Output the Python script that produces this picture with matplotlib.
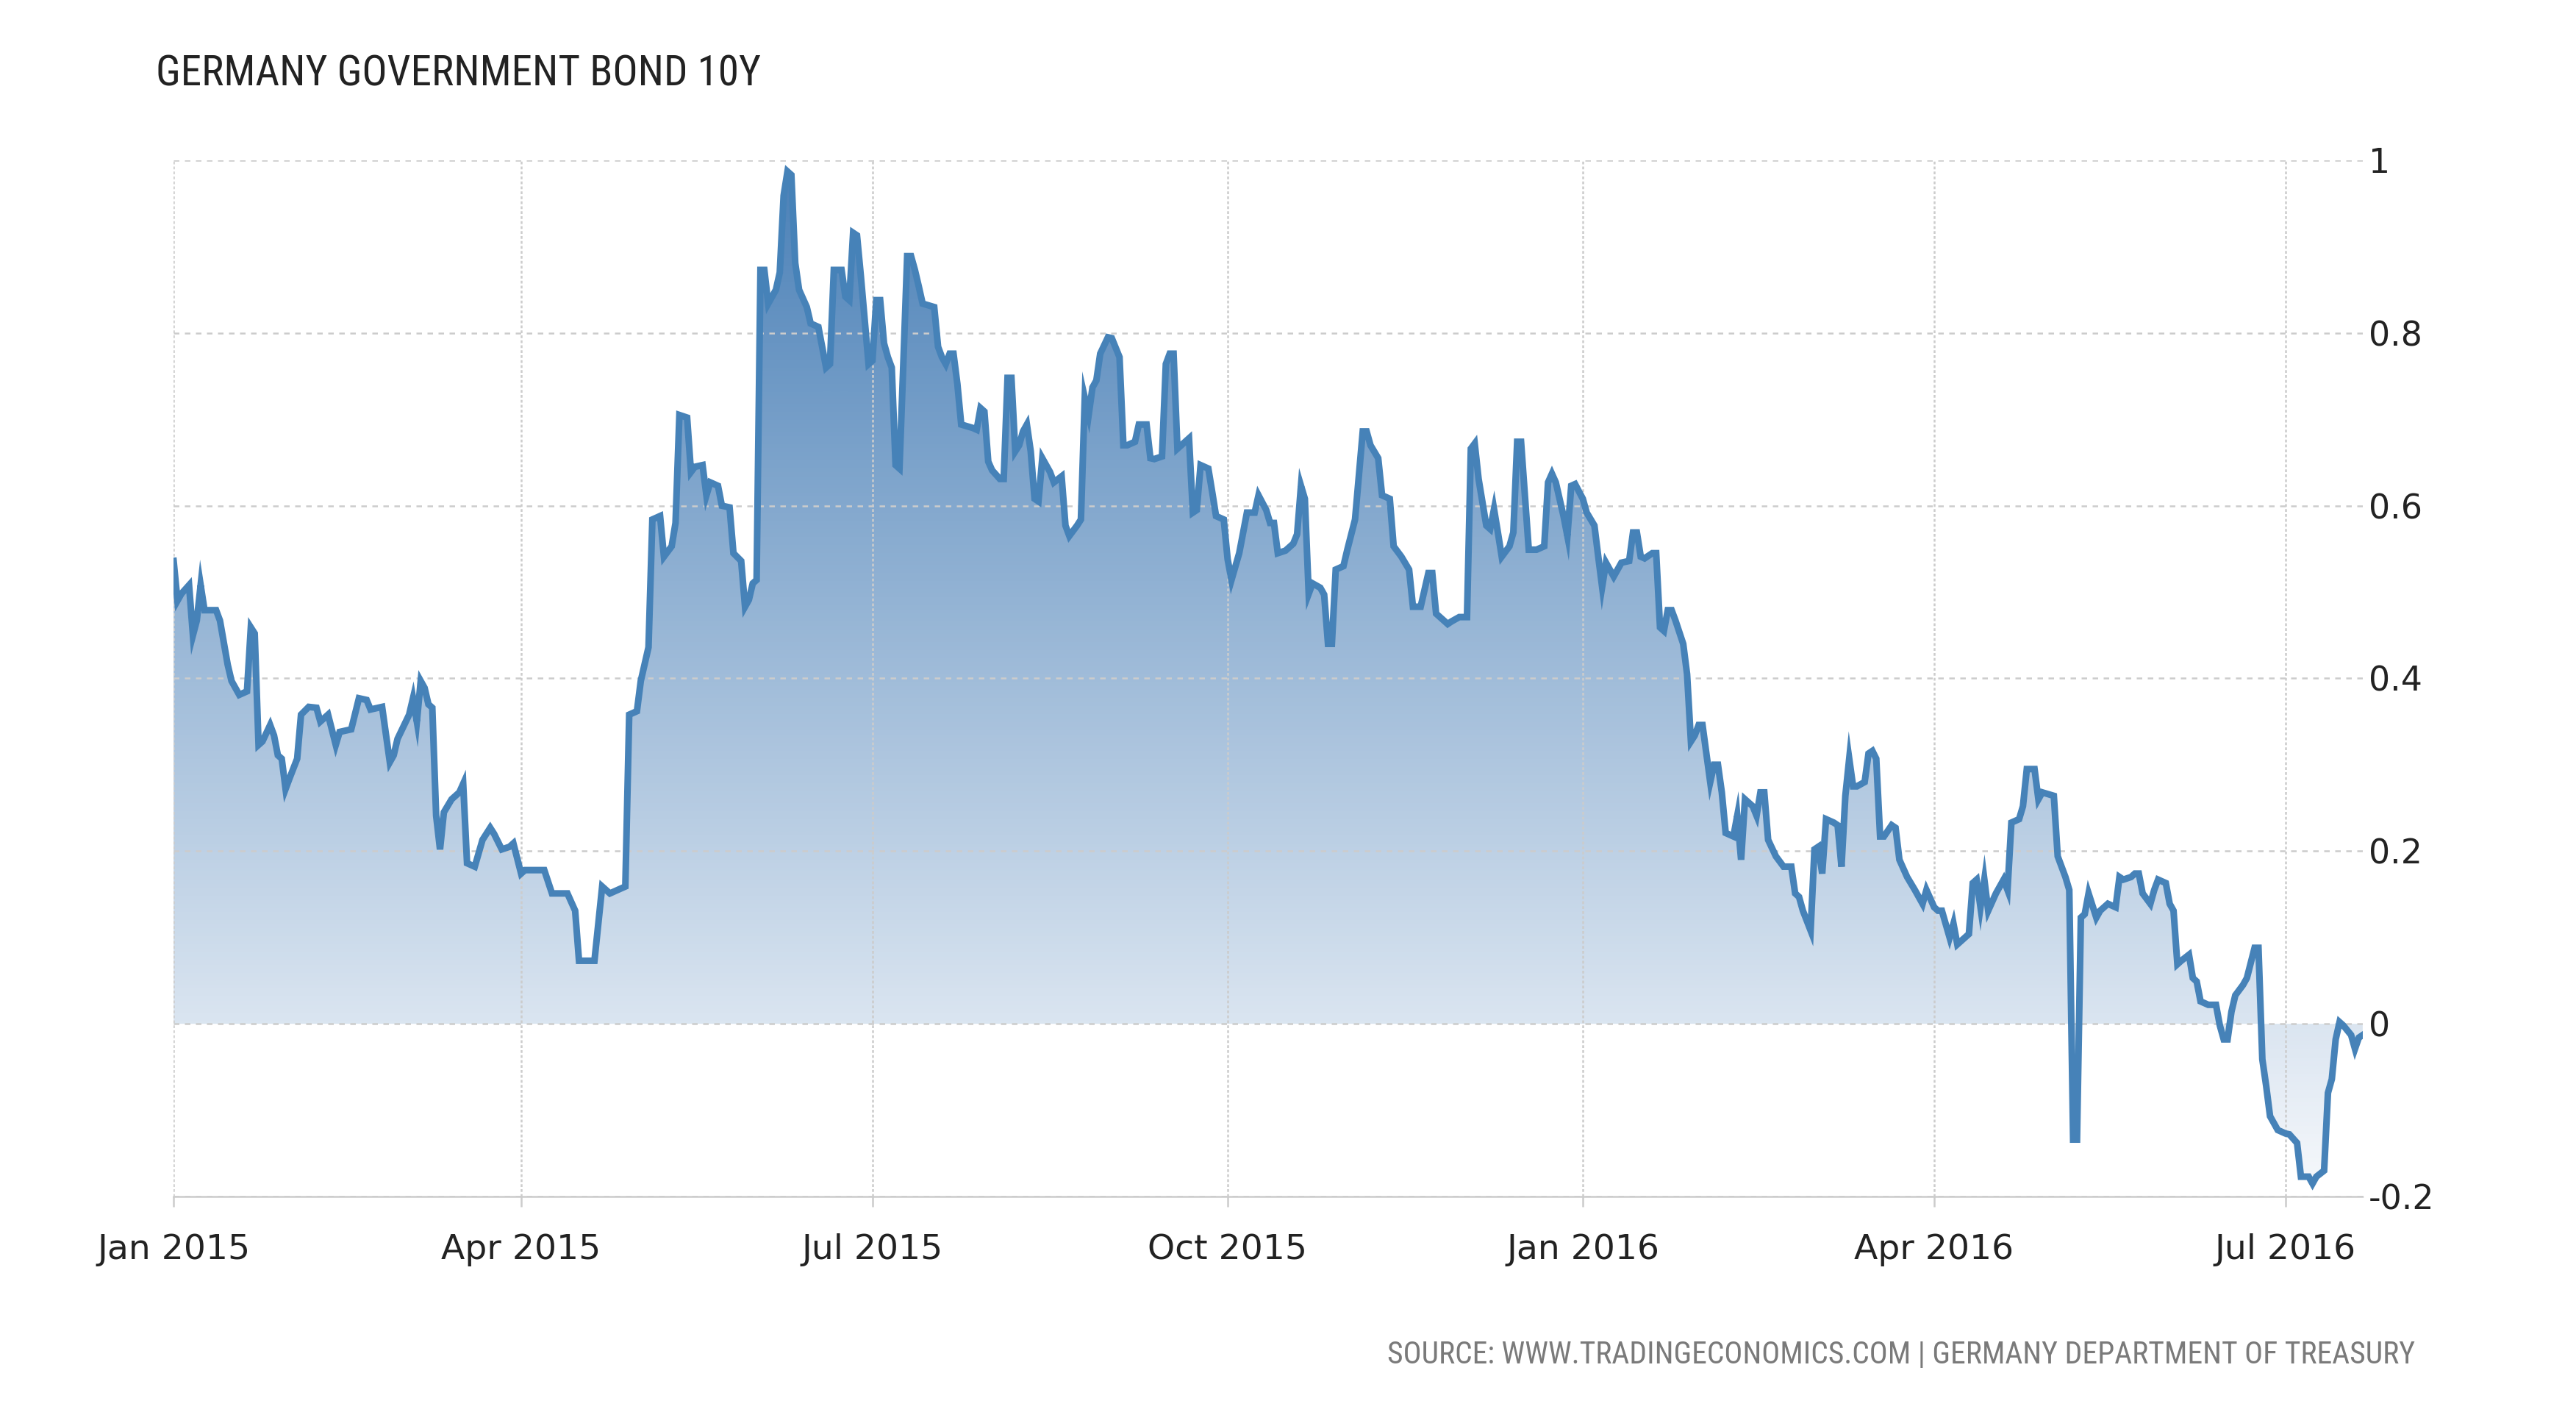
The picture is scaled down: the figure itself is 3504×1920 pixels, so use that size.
import numpy as np
import pandas as pd
import matplotlib
matplotlib.use('Agg')
import matplotlib.pyplot as plt
import matplotlib.dates as mdates
from matplotlib.colors import LinearSegmentedColormap
from matplotlib.ticker import FuncFormatter, FixedLocator
from matplotlib import font_manager

# Germany 10Y bund yield (days counted from 2015-01-01)
start = pd.Timestamp('2015-01-01')
days = [
    0, 1, 2, 4, 5, 6, 7, 8, 11, 12, 14, 15, 17, 19, 20, 21, 22, 23, 25, 26,
    27, 28, 29, 30, 32, 33, 35, 37, 38, 40, 42, 43, 46, 48, 50, 51, 54, 56, 57, 58,
    61, 62, 63, 64, 65, 66, 67, 68, 69, 70, 72, 74, 75, 76, 78, 80, 82, 83, 85, 87,
    88, 90, 91, 96, 98, 102, 104, 105, 109, 111, 113, 117, 118, 120, 121, 123, 124, 126, 127, 129,
    130, 131, 133, 134, 135, 137, 138, 139, 141, 142, 144, 145, 147, 148, 149, 150, 151, 152, 153, 154,
    156, 157, 158, 159, 160, 161, 162, 164, 165, 167, 169, 170, 171, 173, 174, 175, 176, 177, 178, 179,
    180, 181, 182, 183, 184, 185, 186, 187, 188, 189, 190, 191, 192, 193, 194, 197, 198, 199, 200, 201,
    202, 203, 204, 207, 208, 209, 210, 211, 212, 214, 215, 216, 217, 218, 219, 220, 221, 222, 223, 224,
    225, 227, 228, 230, 231, 232, 234, 235, 236, 237, 238, 239, 240, 242, 243, 245, 246, 247, 249, 250,
    252, 253, 254, 256, 257, 258, 259, 260, 261, 263, 264, 265, 266, 268, 269, 270, 272, 273, 274, 276,
    278, 280, 281, 283, 284, 285, 286, 288, 290, 291, 292, 293, 294, 295, 297, 298, 299, 300, 301, 303,
    304, 306, 308, 309, 310, 312, 313, 315, 316, 318, 320, 321, 323, 325, 326, 327, 330, 331, 333, 335,
    336, 337, 338, 340, 341, 342, 343, 344, 346, 347, 348, 349, 351, 353, 355, 356, 357, 358, 360, 361,
    362, 363, 365, 366, 368, 369, 370, 371, 373, 375, 377, 378, 379, 380, 381, 383, 384, 385, 386, 387,
    388, 389, 391, 392, 393, 394, 395, 396, 398, 399, 400, 401, 402, 404, 405, 406, 407, 409, 410, 411,
    412, 413, 415, 417, 419, 420, 421, 422, 424, 425, 426, 427, 428, 430, 431, 432, 433, 434, 435, 436,
    438, 439, 440, 441, 442, 443, 445, 446, 447, 449, 451, 453, 454, 456, 457, 458, 460, 461, 462, 463,
    465, 466, 467, 468, 469, 470, 472, 474, 475, 476, 478, 479, 480, 482, 483, 484, 487, 488, 490, 491,
    492, 493, 494, 495, 496, 498, 499, 501, 503, 504, 505, 507, 508, 509, 510, 512, 513, 514, 516, 517,
    518, 519, 520, 522, 523, 524, 525, 527, 529, 530, 531, 532, 533, 534, 536, 537, 539, 540, 541, 542,
    543, 544, 545, 547, 548, 550, 551, 552, 553, 554, 555, 557, 558, 559, 560, 561, 562, 564, 565, 566,
    567,
]
yields = [
    0.536, 0.49, 0.498, 0.508, 0.45, 0.467, 0.508, 0.479, 0.479, 0.467, 0.416, 0.397, 0.381, 0.385, 0.459, 0.452, 0.323, 0.327, 0.346, 0.334,
    0.311, 0.307, 0.272, 0.284, 0.307, 0.358, 0.367, 0.366, 0.35, 0.358, 0.323, 0.338, 0.341, 0.377, 0.375, 0.364, 0.367, 0.303, 0.311, 0.33,
    0.358, 0.377, 0.35, 0.397, 0.389, 0.37, 0.366, 0.241, 0.202, 0.245, 0.26, 0.268, 0.278, 0.186, 0.182, 0.213, 0.227, 0.22, 0.202, 0.205,
    0.209, 0.174, 0.178, 0.178, 0.151, 0.151, 0.131, 0.073, 0.073, 0.159, 0.151, 0.159, 0.358, 0.362, 0.397, 0.436, 0.584, 0.588, 0.541, 0.553,
    0.58, 0.705, 0.702, 0.639, 0.645, 0.647, 0.612, 0.627, 0.623, 0.6, 0.598, 0.545, 0.536, 0.483, 0.491, 0.51, 0.514, 0.873, 0.873, 0.834,
    0.85, 0.87, 0.959, 0.987, 0.983, 0.881, 0.85, 0.83, 0.811, 0.807, 0.76, 0.764, 0.873, 0.873, 0.842, 0.838, 0.916, 0.913, 0.866, 0.815,
    0.764, 0.768, 0.838, 0.838, 0.788, 0.772, 0.76, 0.647, 0.643, 0.764, 0.889, 0.889, 0.873, 0.854, 0.834, 0.83, 0.784, 0.772, 0.764, 0.776,
    0.776, 0.741, 0.694, 0.69, 0.688, 0.713, 0.709, 0.651, 0.641, 0.631, 0.631, 0.748, 0.748, 0.663, 0.67, 0.686, 0.694, 0.663, 0.608, 0.605,
    0.655, 0.639, 0.627, 0.634, 0.577, 0.565, 0.577, 0.584, 0.725, 0.705, 0.737, 0.745, 0.776, 0.795, 0.794, 0.772, 0.67, 0.67, 0.674, 0.694,
    0.694, 0.655, 0.654, 0.657, 0.764, 0.776, 0.776, 0.666, 0.67, 0.678, 0.592, 0.595, 0.647, 0.643, 0.616, 0.588, 0.584, 0.538, 0.514, 0.545,
    0.592, 0.592, 0.612, 0.595, 0.58, 0.58, 0.545, 0.548, 0.556, 0.567, 0.623, 0.608, 0.498, 0.51, 0.505, 0.497, 0.44, 0.44, 0.526, 0.53,
    0.549, 0.584, 0.686, 0.686, 0.67, 0.655, 0.612, 0.608, 0.553, 0.541, 0.526, 0.483, 0.483, 0.522, 0.522, 0.475, 0.463, 0.466, 0.471, 0.471,
    0.666, 0.672, 0.631, 0.577, 0.573, 0.596, 0.569, 0.541, 0.553, 0.569, 0.674, 0.674, 0.549, 0.549, 0.553, 0.627, 0.637, 0.627, 0.588, 0.565,
    0.623, 0.625, 0.608, 0.592, 0.577, 0.541, 0.506, 0.534, 0.518, 0.534, 0.536, 0.569, 0.569, 0.541, 0.539, 0.545, 0.545, 0.459, 0.455, 0.479,
    0.479, 0.467, 0.44, 0.405, 0.327, 0.334, 0.346, 0.346, 0.28, 0.3, 0.3, 0.268, 0.221, 0.217, 0.241, 0.19, 0.26, 0.252, 0.241, 0.268,
    0.268, 0.213, 0.194, 0.182, 0.182, 0.151, 0.147, 0.131, 0.108, 0.202, 0.205, 0.174, 0.237, 0.233, 0.23, 0.182, 0.264, 0.307, 0.275, 0.275,
    0.28, 0.313, 0.316, 0.307, 0.217, 0.217, 0.23, 0.227, 0.19, 0.17, 0.155, 0.139, 0.155, 0.135, 0.131, 0.131, 0.1, 0.116, 0.092, 0.096,
    0.104, 0.163, 0.167, 0.135, 0.167, 0.131, 0.151, 0.167, 0.155, 0.233, 0.237, 0.252, 0.295, 0.295, 0.26, 0.268, 0.264, 0.194, 0.17, 0.155,
    -0.134, -0.134, 0.123, 0.127, 0.151, 0.123, 0.131, 0.139, 0.135, 0.17, 0.167, 0.17, 0.174, 0.174, 0.151, 0.139, 0.155, 0.167, 0.163, 0.139,
    0.131, 0.069, 0.073, 0.08, 0.053, 0.049, 0.026, 0.022, 0.022, -0.002, -0.018, -0.018, 0.014, 0.033, 0.045, 0.053, 0.088, 0.088, -0.041, -0.072,
    -0.107, -0.115, -0.123, -0.127, -0.128, -0.138, -0.177, -0.177, -0.177, -0.185, -0.177, -0.17, -0.08, -0.064, -0.018, 0.002, -0.002, -0.013, -0.029, -0.016,
    -0.013,
]
y_ticks = [-0.2, 0, 0.2, 0.4, 0.6, 0.8, 1]

title = 'GERMANY GOVERNMENT BOND 10Y'
source = 'SOURCE: WWW.TRADINGECONOMICS.COM | GERMANY DEPARTMENT OF TREASURY'

dates = start + pd.to_timedelta(days, unit='D')
x = mdates.date2num(dates)

line_color = '#4682b8'
grid_color = '#cccccc'

# a narrow face for the header/footer if one is around, else shrink DejaVu
names = {f.name for f in font_manager.fontManager.ttflist}
narrow = None
for cand in ['Liberation Sans Narrow', 'DejaVu Sans Condensed', 'Roboto Condensed',
             'Open Sans Condensed', 'Noto Sans Display']:
    if cand in names:
        narrow = cand
        break
if narrow is not None:
    head_font = dict(family=[narrow, 'DejaVu Sans'], fontsize=41)
    foot_font = dict(family=[narrow, 'DejaVu Sans'], fontsize=30)
else:
    head_font = dict(family=['DejaVu Sans'], fontsize=33)
    foot_font = dict(family=['DejaVu Sans'], fontsize=23.5)

fig = plt.figure(figsize=(35.04, 19.2), dpi=100)
ax = fig.add_axes([0.0674, 0.1526, 0.9172 - 0.0674, 0.8865 - 0.1526])

# gradient fill between the line and zero
poly = ax.fill_between(x, yields, 0, facecolor='none', edgecolor='none')
cmap = LinearSegmentedColormap.from_list('bond', ['#f7f9fc', '#4a80b7'])
grad = np.linspace(0, 1, 256).reshape(-1, 1)
img = ax.imshow(grad, extent=[x[0], x[-1], -0.2, 1.0], origin='lower',
                aspect='auto', cmap=cmap, zorder=1, interpolation='bilinear')
img.set_clip_path(poly.get_paths()[0], transform=ax.transData)

ax.plot(x, yields, color=line_color, lw=6.5, solid_joinstyle='miter', zorder=3)

ax.set_xlim(x[0], x[-1])
ax.set_ylim(-0.2, 1.0)

# axes and grid
ax.xaxis.set_major_locator(mdates.MonthLocator(bymonth=[1, 4, 7, 10]))
ax.xaxis.set_major_formatter(mdates.DateFormatter('%b %Y'))
ax.yaxis.set_major_locator(FixedLocator(y_ticks))
ax.yaxis.set_major_formatter(FuncFormatter(lambda v, p: '%g' % v))
ax.yaxis.tick_right()

ax.grid(axis='y', color=grid_color, linestyle=(0, (3, 3)), lw=1.8, zorder=0)
ax.grid(axis='x', color=grid_color, linestyle=(0, (1.5, 1.2)), lw=1.8, zorder=0)

for s in ['top', 'left', 'right']:
    ax.spines[s].set_visible(False)
ax.spines['bottom'].set_color(grid_color)
ax.spines['bottom'].set_linestyle((0, (1, 1)))
ax.spines['bottom'].set_linewidth(1.8)

ax.tick_params(axis='x', length=10, width=1.8, color=grid_color, pad=26,
               labelsize=34, labelcolor='#222222')
ax.tick_params(axis='y', length=0, pad=6, labelsize=33, labelcolor='#222222')
for lab in ax.get_yticklabels():
    lab.set_horizontalalignment('left')

fig.text(0.0605, 0.9475, title, color='#222222', va='center', ha='left', **head_font)
fig.text(0.9375, 0.0405, source, color='#7a7a7a', va='center', ha='right', **foot_font)

fig.savefig('out.png', dpi=100, facecolor='white')
